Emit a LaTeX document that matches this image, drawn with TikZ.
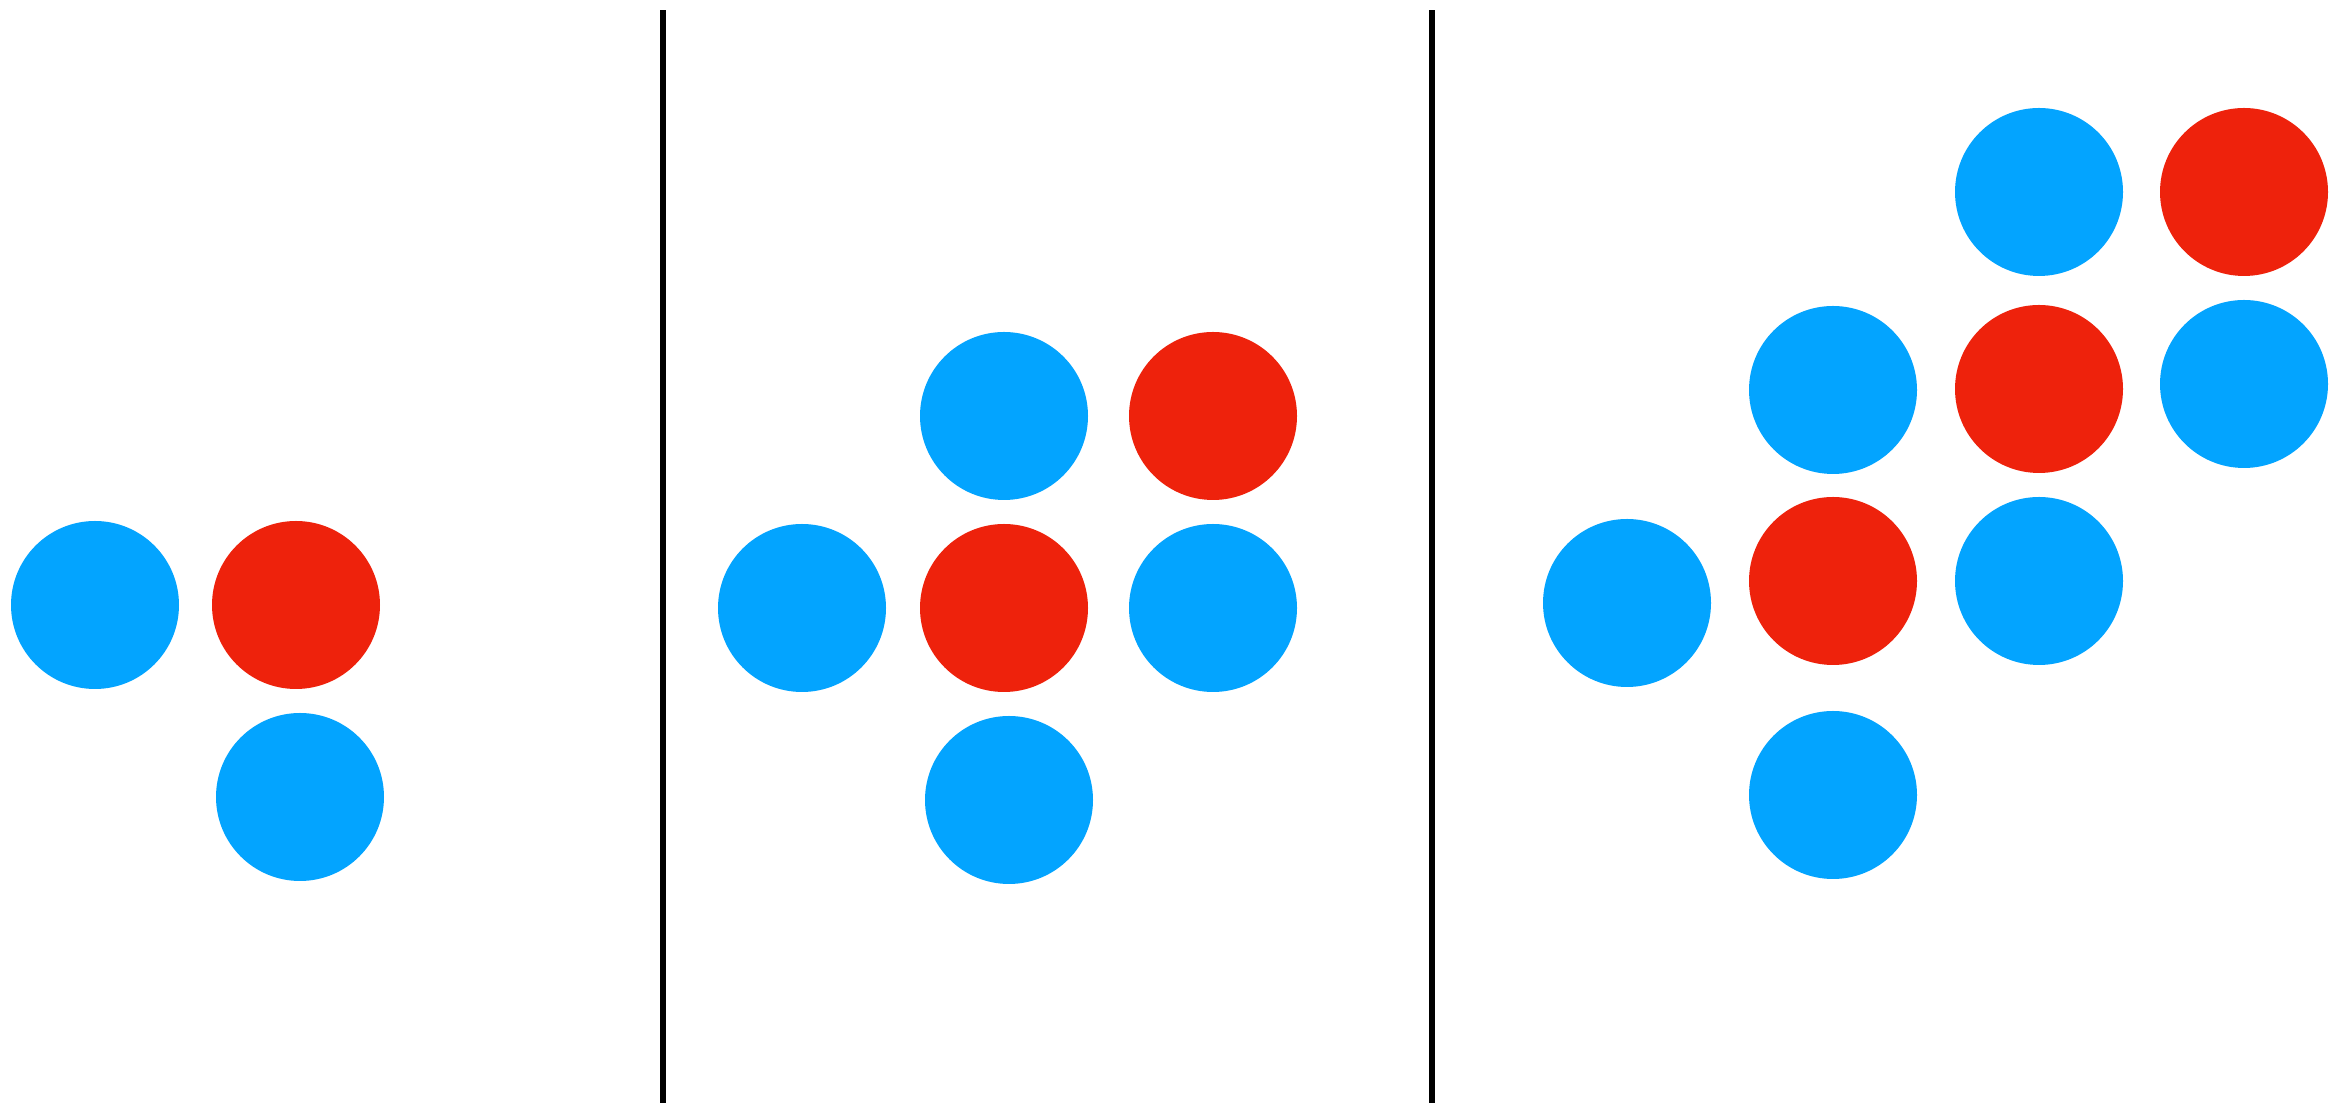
\documentclass[tikz,border=0pt]{standalone}
\usepackage{xcolor}
\usepackage{tikz}
\definecolor{dotblue}{HTML}{03A4FF}
\definecolor{dotred}{HTML}{EE220C}

\begin{document}
\begin{tikzpicture}[
  bl/.style={circle, fill=dotblue, inner sep=0pt, minimum size=1.68cm},
  rd/.style={circle, fill=dotred, inner sep=0pt, minimum size=1.68cm},
  sep/.style={line width=1.6pt, black}
]
  \useasboundingbox (0,0) rectangle (23.32,11.03);
  % first group
  \node[bl] (a1) at (0.95,4.98) {};
  \node[rd] (a2) at (2.96,4.98) {};
  \node[bl] (a3) at (3.00,3.06) {};
  \draw[sep] (6.63,0) -- (6.63,10.93);
  % second group
  \node[bl] (b1) at (8.02,4.95) {};
  \node[bl] (b2) at (10.04,6.87) {};
  \node[rd] (b3) at (12.13,6.87) {};
  \node[rd] (b4) at (10.04,4.95) {};
  \node[bl] (b5) at (12.13,4.95) {};
  \node[bl] (b6) at (10.09,3.03) {};
  \draw[sep] (14.32,0) -- (14.32,10.93);
  % third group
  \node[bl] (c1) at (16.27,5.00) {};
  \node[bl] (c2) at (18.33,7.13) {};
  \node[rd] (c3) at (18.33,5.22) {};
  \node[bl] (c4) at (18.33,3.08) {};
  \node[bl] (c5) at (20.39,9.11) {};
  \node[rd] (c6) at (20.39,7.14) {};
  \node[bl] (c7) at (20.39,5.22) {};
  \node[rd] (c8) at (22.44,9.11) {};
  \node[bl] (c9) at (22.44,7.19) {};
\end{tikzpicture}
\end{document}
